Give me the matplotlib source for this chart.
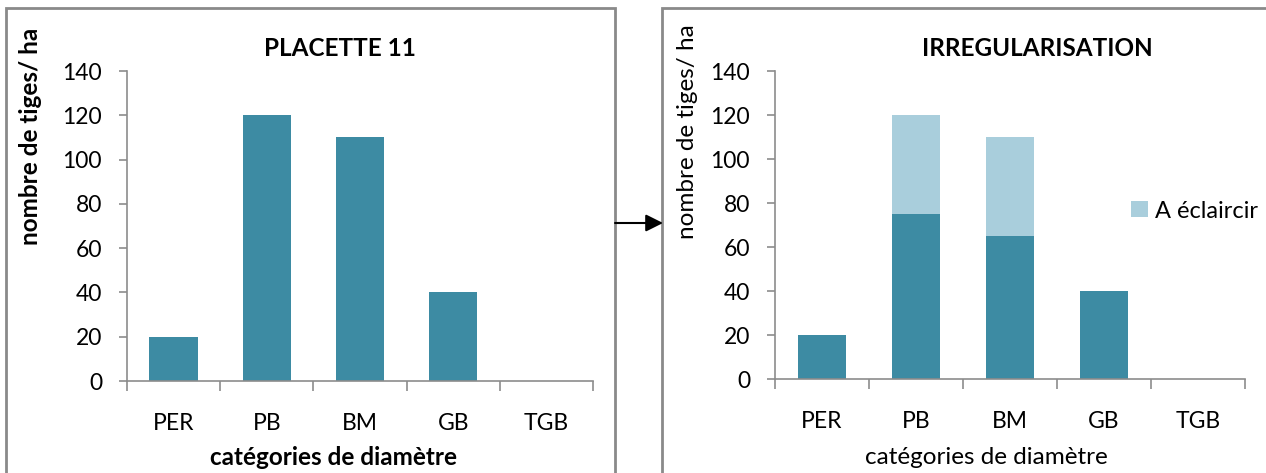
import matplotlib
matplotlib.use("Agg")
import matplotlib.pyplot as plt
from matplotlib.patches import Rectangle, FancyArrowPatch

plt.rcParams['font.family'] = ['Lato', 'DejaVu Sans']

categories = ["PER", "PB", "BM", "GB", "TGB"]
placette_11 = [20, 120, 110, 40, 0]
conserves = [20, 75, 65, 40, 0]
a_eclaircir = [0, 45, 45, 0, 0]
yticks = [0, 20, 40, 60, 80, 100, 120, 140]

DARK = "#3D8BA3"
LIGHT = "#A9CEDC"
AXIS = "#8C8C8C"
TICK_FS = 16.5
LABEL_FS = 17.5

W, H = 1266, 473
fig = plt.figure(figsize=(W / 100, H / 100), dpi=100)
fig.patch.set_facecolor("white")


def px_rect(x0, y0, x1, y1):
    """Convert a pixel box (top-left origin) to figure fraction [l, b, w, h]."""
    return [x0 / W, 1 - y1 / H, (x1 - x0) / W, (y1 - y0) / H]


def fx(x):
    return x / W


def fy(y):
    return 1 - y / H


def style_axes(ax):
    n = len(categories)
    ax.set_xlim(-0.5, n - 0.5)
    ax.set_ylim(0, 140)
    ax.set_yticks(yticks)
    ax.set_xticks(list(range(n)))
    ax.set_xticklabels(categories)
    ax.set_xticks([i - 0.5 for i in range(n + 1)], minor=True)
    ax.tick_params(axis="x", which="major", length=0, pad=23, labelsize=TICK_FS)
    ax.tick_params(axis="x", which="minor", length=7, width=1.2, color=AXIS, direction="out")
    ax.tick_params(axis="y", length=6, width=1.2, color=AXIS, direction="out",
                   labelsize=TICK_FS, pad=12)
    for s in ("top", "right"):
        ax.spines[s].set_visible(False)
    for s in ("left", "bottom"):
        ax.spines[s].set_color(AXIS)
        ax.spines[s].set_linewidth(1.2)


# Panel frames
for x0, x1 in ((6, 615), (662, 1300)):
    fig.patches.append(Rectangle((fx(x0), -0.1), (x1 - x0) / W, fy(8) + 0.1,
                                 transform=fig.transFigure, fill=False,
                                 edgecolor="#8A8A8A", linewidth=2))

# Left panel: current stand
ax1 = fig.add_axes(px_rect(127, 71, 593, 381))
ax1.bar(range(len(categories)), placette_11, width=0.52, color=DARK)
style_axes(ax1)
fig.text(fx(340), fy(48), "PLACETTE 11", fontsize=17.5, fontweight="bold",
         ha="center", va="center")
fig.text(fx(333), fy(457), "catégories de diamètre", fontsize=LABEL_FS,
         fontweight="bold", ha="center", va="center")
fig.text(fx(31), fy(136), "nombre de tiges/ ha", fontsize=LABEL_FS,
         fontweight="bold", rotation=90, ha="center", va="center")

# Right panel: after irregularisation thinning
ax2 = fig.add_axes(px_rect(775, 71, 1245, 379))
ax2.bar(range(len(categories)), conserves, width=0.52, color=DARK)
ax2.bar(range(len(categories)), a_eclaircir, width=0.52, bottom=conserves,
        color=LIGHT, label="A éclaircir")
style_axes(ax2)
fig.text(fx(1037), fy(48), "IRREGULARISATION", fontsize=17.5, fontweight="bold",
         ha="center", va="center")
fig.text(fx(986), fy(457), "catégories de diamètre", fontsize=LABEL_FS,
         ha="center", va="center")
fig.text(fx(687), fy(132), "nombre de tiges/ ha", fontsize=LABEL_FS,
         rotation=90, ha="center", va="center")
fig.legend(*ax2.get_legend_handles_labels(), loc="center left",
           bbox_to_anchor=(fx(1131), fy(211)), frameon=False,
           fontsize=17, handlelength=0.7, handleheight=0.7, handletextpad=0.3,
           borderaxespad=0, borderpad=0)

# Arrow linking both panels
fig.patches.append(FancyArrowPatch((fx(615), fy(223)), (fx(663), fy(223)),
                                   transform=fig.transFigure, arrowstyle="-|>",
                                   mutation_scale=26, color="black", linewidth=1.5,
                                   shrinkA=0, shrinkB=0))

fig.savefig("out.png", dpi=100)
